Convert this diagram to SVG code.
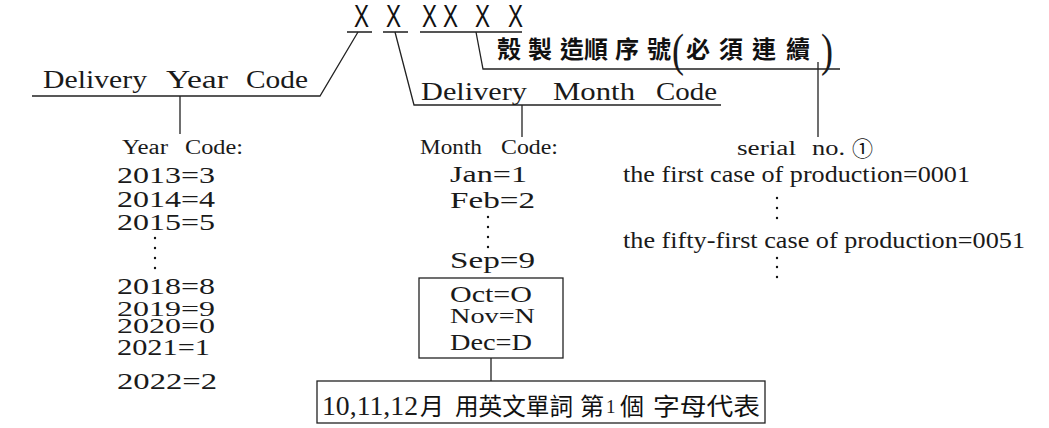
<svg xmlns="http://www.w3.org/2000/svg" width="1049" height="428" viewBox="0 0 1049 428">
<style>
.ln{stroke:#222;stroke-width:1.3;fill:none}
.ul{stroke:#555;stroke-width:2;fill:none}
.mono{font-family:"Liberation Serif",serif;fill:#1a1a1a}
.ser{font-family:"Liberation Serif",serif;fill:#1a1a1a}
.cjk{font-family:"Noto Sans CJK TC","Noto Sans CJK SC",sans-serif;fill:#111}
.x{font-family:"Liberation Sans",sans-serif;font-size:31px;fill:#111}
.dot{fill:#111}
</style>
<rect width="1049" height="428" fill="#fff"/>
<g id="code">
<text class="x" x="354" y="27" textLength="15" lengthAdjust="spacingAndGlyphs">X</text>
<text class="x" x="386" y="27" textLength="15" lengthAdjust="spacingAndGlyphs">X</text>
<text class="x" x="422" y="27" textLength="15" lengthAdjust="spacingAndGlyphs">X</text>
<text class="x" x="443" y="27" textLength="15" lengthAdjust="spacingAndGlyphs">X</text>
<text class="x" x="475" y="27" textLength="15" lengthAdjust="spacingAndGlyphs">X</text>
<text class="x" x="508" y="27" textLength="15" lengthAdjust="spacingAndGlyphs">X</text>
<path class="ul" d="M347 32H372M383 32H408M420 32H522"/>
</g>
<g id="connectors">
<path class="ln" d="M358 32L320 96H32M180 96V134"/>
<path class="ln" d="M395 32L414 105H721M522 105V137"/>
<path class="ln" d="M476 32L483 69H840M818 62V137"/>
<path class="ln" d="M491 358V381"/>
</g>
<g id="year-label">
<text class="mono" y="88" font-size="26" x="43" textLength="104" lengthAdjust="spacingAndGlyphs">Delivery</text>
<text class="mono" y="88" font-size="26" x="166" textLength="62" lengthAdjust="spacingAndGlyphs">Year</text>
<text class="mono" y="88" font-size="26" x="246" textLength="62" lengthAdjust="spacingAndGlyphs">Code</text>
</g>
<g id="month-label">
<text class="mono" y="100" font-size="26" x="421" textLength="106" lengthAdjust="spacingAndGlyphs">Delivery</text>
<text class="mono" y="100" font-size="26" x="553" textLength="82" lengthAdjust="spacingAndGlyphs">Month</text>
<text class="mono" y="100" font-size="26" x="656" textLength="61" lengthAdjust="spacingAndGlyphs">Code</text>
</g>
<g id="serial-label">
<text class="cjk" font-size="24" font-weight="bold" y="58"><tspan x="497">殼</tspan><tspan x="528">製</tspan><tspan x="560">造</tspan><tspan x="584">順</tspan><tspan x="615">序</tspan><tspan x="647">號</tspan><tspan x="686">必</tspan><tspan x="719">須</tspan><tspan x="752">連</tspan><tspan x="786">續</tspan></text>
<text class="ser" font-size="47" y="66" x="672" textLength="12" lengthAdjust="spacingAndGlyphs">(</text>
<text class="ser" font-size="47" y="66" x="821" textLength="12" lengthAdjust="spacingAndGlyphs">)</text>
</g>
<g id="year-codes">
<text class="mono" y="154" font-size="20" x="122" textLength="46" lengthAdjust="spacingAndGlyphs">Year</text>
<text class="mono" y="154" font-size="20" x="185" textLength="58" lengthAdjust="spacingAndGlyphs">Code:</text>
<text class="ser" font-size="23" x="117" y="183" textLength="98" lengthAdjust="spacingAndGlyphs">2013=3</text>
<text class="ser" font-size="23" x="117" y="207" textLength="98" lengthAdjust="spacingAndGlyphs">2014=4</text>
<text class="ser" font-size="23" x="117" y="230" textLength="98" lengthAdjust="spacingAndGlyphs">2015=5</text>
<circle class="dot" cx="155" cy="238" r="1.2"/><circle class="dot" cx="155" cy="248" r="1.2"/><circle class="dot" cx="155" cy="258" r="1.2"/><circle class="dot" cx="155" cy="268" r="1.2"/>
<text class="ser" font-size="23" x="117" y="294" textLength="98" lengthAdjust="spacingAndGlyphs">2018=8</text>
<text class="ser" font-size="22" x="117" y="316" textLength="98" lengthAdjust="spacingAndGlyphs">2019=9</text>
<text class="ser" font-size="22" x="117" y="333" textLength="98" lengthAdjust="spacingAndGlyphs">2020=0</text>
<text class="ser" font-size="23" x="117" y="355" textLength="93" lengthAdjust="spacingAndGlyphs">2021=1</text>
<text class="ser" font-size="23" x="117" y="389" textLength="100" lengthAdjust="spacingAndGlyphs">2022=2</text>
</g>
<g id="month-codes">
<text class="mono" y="154" font-size="20" x="420" textLength="62" lengthAdjust="spacingAndGlyphs">Month</text>
<text class="mono" y="154" font-size="20" x="501" textLength="57" lengthAdjust="spacingAndGlyphs">Code:</text>
<text class="ser" font-size="23" x="450" y="182" textLength="77" lengthAdjust="spacingAndGlyphs">Jan=1</text>
<text class="ser" font-size="23" x="450" y="208" textLength="85" lengthAdjust="spacingAndGlyphs">Feb=2</text>
<circle class="dot" cx="488" cy="217" r="1.2"/><circle class="dot" cx="488" cy="227" r="1.2"/><circle class="dot" cx="488" cy="237" r="1.2"/><circle class="dot" cx="488" cy="247" r="1.2"/>
<text class="ser" font-size="23" x="450" y="268" textLength="85" lengthAdjust="spacingAndGlyphs">Sep=9</text>
</g>
<g id="oct-dec-box">
<rect class="ln" x="419" y="278" width="144" height="80"/>
<text class="ser" font-size="23" x="450" y="302" textLength="82" lengthAdjust="spacingAndGlyphs">Oct=O</text>
<text class="ser" font-size="22" x="450" y="323" textLength="85" lengthAdjust="spacingAndGlyphs">Nov=N</text>
<text class="ser" font-size="23" x="450" y="350" textLength="82" lengthAdjust="spacingAndGlyphs">Dec=D</text>
</g>
<g id="note-box">
<rect class="ln" x="317" y="381" width="448" height="42"/>
<text class="ser" font-size="27" x="322" y="415" textLength="96" lengthAdjust="spacingAndGlyphs">10,11,12</text>
<text class="cjk" font-size="24" y="415" x="420">月</text>
<text class="cjk" font-size="24" y="415" x="455" textLength="118" lengthAdjust="spacingAndGlyphs">用英文單詞</text>
<text class="cjk" font-size="24" y="415" x="580">第</text>
<text class="ser" font-size="19" y="413" x="606">1</text>
<text class="cjk" font-size="24" y="415" x="620">個</text>
<text class="cjk" font-size="24" y="415" x="653" textLength="107" lengthAdjust="spacingAndGlyphs">字母代表</text>
</g>
<g id="serial-codes">
<text class="ser" font-size="20" x="737" y="155" textLength="59" lengthAdjust="spacingAndGlyphs">serial</text>
<text class="ser" font-size="20" x="812" y="155" textLength="33" lengthAdjust="spacingAndGlyphs">no.</text>
<text class="cjk" font-size="21" x="852" y="156">①</text>
<text class="ser" font-size="24" x="623" y="182" textLength="347" lengthAdjust="spacingAndGlyphs">the first case of production=0001</text>
<circle class="dot" cx="777" cy="198" r="1.2"/><circle class="dot" cx="777" cy="208" r="1.2"/><circle class="dot" cx="777" cy="218" r="1.2"/>
<text class="ser" font-size="24" x="623" y="248" textLength="402" lengthAdjust="spacingAndGlyphs">the fifty-first case of production=0051</text>
<circle class="dot" cx="777" cy="258" r="1.2"/><circle class="dot" cx="777" cy="267" r="1.2"/><circle class="dot" cx="777" cy="277" r="1.2"/>
</g>
</svg>
